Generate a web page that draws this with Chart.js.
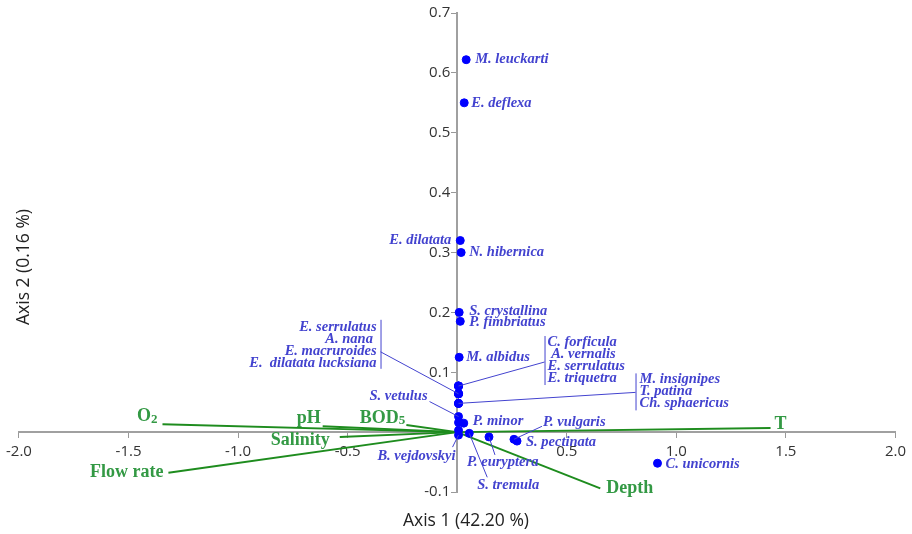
<!DOCTYPE html>
<html>
<head>
<meta charset="utf-8">
<script src="https://cdn.jsdelivr.net/npm/chart.js@4"></script>
<style>
  html, body { margin: 0; padding: 0; background: #fff; }
  #wrap { width: 912px; height: 534px; }
</style>
</head>
<body>
<div id="wrap"><canvas id="canvas" width="912" height="534"></canvas></div>
<script>
// species scores (axis 1, axis 2)
const speciesNames = ['M. leuckarti', 'E. deflexa', 'E. dilatata', 'N. hibernica', 'S. crystallina', 'P. fimbriatus', 'M. albidus',
  'C. forficula', ' A. vernalis', 'E. serrulatus', 'E. triquetra',
  'E. serrulatus', 'A. nana ', 'E. macruroides', 'E.  dilatata lucksiana',
  'M. insignipes', 'T. patina', 'Ch. sphaericus',
  'S. vetulus', '', 'P. minor', '', 'B. vejdovskyi', 'S. tremula', 'P. euryptera', 'P. vulgaris', 'S. pectinata', 'C. unicornis'];
const speciesX = [0.041, 0.032, 0.014, 0.018, 0.009, 0.014, 0.009,
  0.006, 0.006, 0.006, 0.006,
  0.006, 0.006, 0.006, 0.006,
  0.006, 0.006, 0.006,
  0.006, 0.006, 0.030, 0.006, 0.006, 0.055, 0.145, 0.259, 0.273, 0.914];
const speciesY = [0.622, 0.550, 0.320, 0.300, 0.200, 0.185, 0.125,
  0.077, 0.077, 0.077, 0.077,
  0.064, 0.064, 0.064, 0.064,
  0.048, 0.048, 0.048,
  0.026, 0.016, 0.015, 0.003, -0.005, -0.002, -0.008, -0.012, -0.015, -0.052];

// environmental vectors
const envNames = ['T', 'Depth', 'O', 'pH', 'BOD', 'Salinity', 'Flow rate'];
const envSub = ['', '', '2', '', '5', '', ''];
const envX = [1.43, 0.653, -1.345, -0.614, -0.232, -0.536, -1.318];
const envY = [0.007, -0.094, 0.013, 0.010, 0.012, -0.008, -0.068];

const xTicks = [-2.0, -1.5, -1.0, -0.5, 0.5, 1.0, 1.5, 2.0];
const yTicks = [-0.1, 0.1, 0.2, 0.3, 0.4, 0.5, 0.6, 0.7];

// label placement in px relative to the point: [dx, dy, align, leaderDx, leaderDy]
const labelPlace = [
  [9, 0, 'left'], [7, 0, 'left'], [-9, 0, 'right'], [8, 0, 'left'], [10, -1, 'left'], [9, 1, 'left'], [7, 0, 'left'],
  null, null, null, null, null, null, null, null, null, null, null,
  [-31, -20, 'right', -29, -15], null, [9, -2, 'left'], null,
  [-3, 21, 'right', -6, 12], [8, 52, 'left', 18, 44], [-22, 25, 'left', 6, 18],
  [29, -17, 'left', 28, -13], [9, 1, 'left'], [8, 1, 'left']
];
// grouped labels: members share one point
const groups = [
  { members: [7, 8, 9, 10], dx: 89, dy: -44, align: 'left', barDx: 86, barTop: -50, barBot: -1, leadDy: -24 },
  { members: [11, 12, 13, 14], dx: -82, dy: -67, align: 'right', barDx: -78, barTop: -74, barBot: -25, leadDy: -42 },
  { members: [15, 16, 17], dx: 181, dy: -24, align: 'left', barDx: 177, barTop: -30, barBot: 7, leadDy: -11 }
];
// env label offsets from vector tip
const envPlace = [[4, -4, 'left'], [6, 0, 'left'], [-5, -8, 'right'], [-2, -8, 'right'], [-1, -7, 'right'], [-10, 3, 'right'], [-5, 0, 'right']];

const blue = '#0000ff';
const labelBlue = '#4343cf';
const green = '#1e8c1e';
const greenText = '#339944';
const spFont = 'bold italic 14.5px "Liberation Serif"';

const datasets = [{
  label: 'species',
  data: speciesX.map((v, i) => ({ x: v, y: speciesY[i] })),
  backgroundColor: blue,
  borderColor: blue,
  pointRadius: 4,
  order: 0
}];
envNames.forEach((n, i) => {
  datasets.push({
    label: n,
    data: [{ x: 0, y: 0 }, { x: envX[i], y: envY[i] }],
    showLine: true,
    borderColor: green,
    borderWidth: 2,
    pointRadius: 0,
    order: 1
  });
});

const labelPlugin = {
  id: 'labels',
  afterDatasetsDraw(chart) {
    const { ctx, scales: { x, y } } = chart;
    ctx.save();
    ctx.font = spFont;
    ctx.fillStyle = labelBlue;
    ctx.strokeStyle = labelBlue;
    ctx.lineWidth = 1;
    ctx.textBaseline = 'middle';
    speciesNames.forEach((name, i) => {
      const p = labelPlace[i];
      if (!p || !name) return;
      const px = x.getPixelForValue(speciesX[i]), py = y.getPixelForValue(speciesY[i]);
      ctx.textAlign = p[2];
      ctx.fillText(name, px + p[0], py + p[1]);
      if (p.length > 3) {
        ctx.beginPath();
        ctx.moveTo(px + p[3], py + p[4]);
        ctx.lineTo(px, py);
        ctx.stroke();
      }
    });
    groups.forEach(g => {
      const i0 = g.members[0];
      const px = x.getPixelForValue(speciesX[i0]), py = y.getPixelForValue(speciesY[i0]);
      ctx.textAlign = g.align;
      g.members.forEach((m, k) => ctx.fillText(speciesNames[m], px + g.dx, py + g.dy + k * 12));
      ctx.beginPath();
      ctx.moveTo(px + g.barDx + 0.5, py + g.barTop);
      ctx.lineTo(px + g.barDx + 0.5, py + g.barBot);
      ctx.moveTo(px + g.barDx, py + g.leadDy);
      ctx.lineTo(px, py);
      ctx.stroke();
    });
    // env labels
    ctx.fillStyle = greenText;
    envNames.forEach((n, i) => {
      const p = envPlace[i];
      const px = x.getPixelForValue(envX[i]) + p[0], py = y.getPixelForValue(envY[i]) + p[1];
      ctx.font = 'bold 18px "Liberation Serif"';
      const w1 = ctx.measureText(n).width;
      ctx.font = 'bold 13px "Liberation Serif"';
      const w2 = envSub[i] ? ctx.measureText(envSub[i]).width : 0;
      const left = p[2] === 'left' ? px : px - w1 - w2;
      ctx.textAlign = 'left';
      ctx.font = 'bold 18px "Liberation Serif"';
      ctx.fillText(n, left, py);
      if (envSub[i]) {
        ctx.font = 'bold 13px "Liberation Serif"';
        ctx.fillText(envSub[i], left + w1, py + 3);
      }
    });
    ctx.restore();
  },
  afterDraw(chart) {
    const { ctx, scales: { x, y } } = chart;
    ctx.save();
    ctx.fillStyle = '#333';
    // y tick labels, left of the centred axis
    ctx.font = '15px "Open Sans"';
    ctx.textAlign = 'right';
    ctx.textBaseline = 'middle';
    const ax = x.getPixelForValue(0);
    yTicks.forEach(v => ctx.fillText(v.toFixed(1), ax - 7, y.getPixelForValue(v)));
    // axis titles
    ctx.fillStyle = '#222';
    ctx.font = '17.5px "Open Sans"';
    ctx.textAlign = 'center';
    ctx.fillText('Axis 1 (42.20 %)', 466, 521);
    ctx.translate(24, 267);
    ctx.rotate(-Math.PI / 2);
    ctx.fillText('Axis 2 (0.16 %)', 0, 0);
    ctx.restore();
  }
};

const tickFont = { family: 'Open Sans', size: 15 };

new Chart(document.getElementById('canvas').getContext('2d'), {
  type: 'scatter',
  data: { datasets: datasets },
  options: {
    responsive: false,
    animation: false,
    layout: { padding: { left: 18, right: 14, top: 13, bottom: 42 } },
    plugins: { legend: { display: false }, tooltip: { enabled: false } },
    scales: {
      x: {
        type: 'linear', min: -2, max: 2, position: { y: 0 },
        afterBuildTicks: s => { s.ticks = [...xTicks.slice(0, 4), 0, ...xTicks.slice(4)].map(v => ({ value: v })); },
        ticks: { color: '#333', font: tickFont, maxRotation: 0, autoSkip: false, padding: 6,
          callback: v => (xTicks.includes(v) ? v.toFixed(1) : '') },
        grid: { drawOnChartArea: false, drawTicks: true, tickLength: 5, color: '#999' },
        border: { color: '#a0a0a0', width: 2 }
      },
      y: {
        type: 'linear', min: -0.1, max: 0.7, position: { x: 0 },
        afterBuildTicks: s => { s.ticks = [-0.1, 0, ...yTicks.slice(1)].map(v => ({ value: v })); },
        ticks: { display: false },
        grid: { drawOnChartArea: false, drawTicks: true, tickLength: 5, color: '#999' },
        border: { color: '#a0a0a0', width: 2 }
      }
    }
  },
  plugins: [labelPlugin]
});
</script>
</body>
</html>
